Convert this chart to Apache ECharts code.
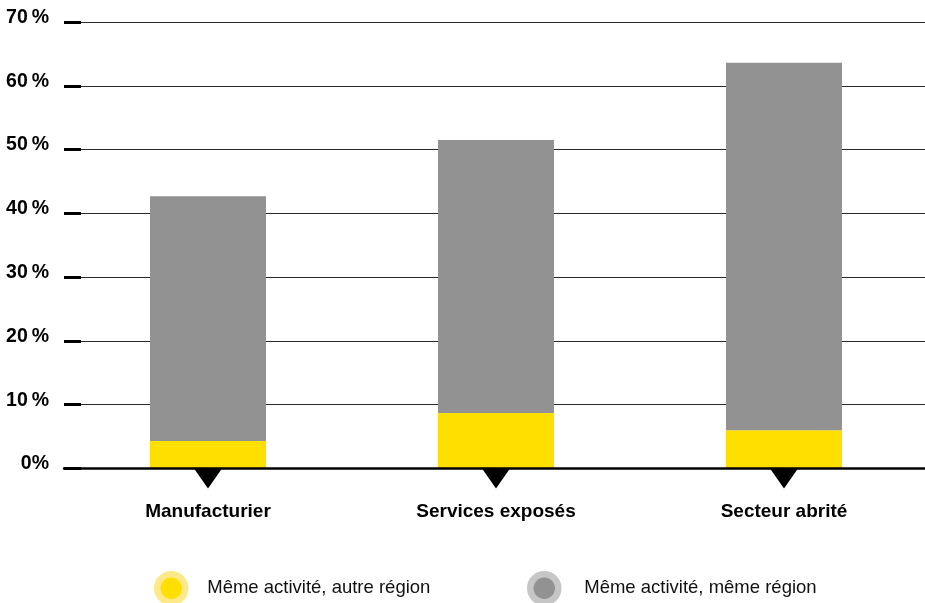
<!DOCTYPE html>
<html>
<head>
<meta charset="utf-8">
<script src="https://cdn.jsdelivr.net/npm/echarts@6/dist/echarts.min.js"></script>
<style>
  html, body { margin: 0; padding: 0; background: #fff; }
  #chart { width: 925px; height: 603px; }
</style>
</head>
<body>
<div id="chart"></div>
<script>
// Catégories et parts (%) de chaque composante
const categories = ['Manufacturier', 'Services exposés', 'Secteur abrité'];
const autreRegion = [4.3, 8.7, 6.0];      // même activité, autre région
const memeRegion = [38.4, 42.8, 57.6];    // même activité, même région
const yTickLabels = ['0%', '10\u2009%', '20\u2009%', '30\u2009%', '40\u2009%', '50\u2009%', '60\u2009%', '70\u2009%'];
const seriesNames = ['Même activité, autre région', 'Même activité, même région'];

const sans = '"Liberation Sans", Arial, Helvetica, sans-serif';
const YELLOW = '#ffdf00';
const GREY = '#929292';

const chart = echarts.init(document.getElementById('chart'));

const legendBase = {
  orient: 'horizontal',
  padding: 0,
  itemWidth: 28,
  itemHeight: 28,
  icon: 'circle',
  selectedMode: false,
  textStyle: {
    fontFamily: sans,
    fontSize: 18.5,
    color: '#111'
  }
};

chart.setOption({
  animation: false,
  backgroundColor: '#ffffff',
  grid: { left: 64, top: 22, width: 864, bottom: 134.5, outerBoundsMode: 'none', containLabel: false },
  legend: [
    Object.assign({}, legendBase, {
      left: 154, top: 571,
      textStyle: Object.assign({}, legendBase.textStyle, { padding: [0, 0, 0, 17] }),
      data: [{ name: seriesNames[0], itemStyle: { color: YELLOW, borderColor: '#fde98a', borderWidth: 6.5 } }]
    }),
    Object.assign({}, legendBase, {
      left: 527, top: 571,
      textStyle: Object.assign({}, legendBase.textStyle, { padding: [0, 0, 0, 21] }),
      data: [{ name: seriesNames[1], itemStyle: { color: GREY, borderColor: '#c6c6c6', borderWidth: 6.5 } }]
    })
  ],
  xAxis: {
    type: 'category',
    data: categories,
    boundaryGap: true,
    axisLine: { show: true, lineStyle: { color: '#000', width: 2.5 } },
    axisTick: { show: false },
    axisLabel: {
      margin: 34,
      fontFamily: sans,
      fontWeight: 'bold',
      fontSize: 19,
      color: '#000'
    },
    z: 5
  },
  yAxis: {
    type: 'value',
    min: 0,
    max: 70,
    interval: 10,
    axisLine: { show: false },
    axisTick: { show: true, inside: true, length: 17, lineStyle: { color: '#000', width: 3 } },
    splitLine: { show: true, lineStyle: { color: '#2a2a2a', width: 1 } },
    axisLabel: {
      margin: 15,
      fontFamily: sans,
      fontWeight: 'bold',
      fontSize: 19.5,
      color: '#000',
      verticalAlign: 'bottom',
      lineHeight: 9,
      formatter: function (v) { return yTickLabels[Math.round(v / 10)]; }
    }
  },
  series: [
    {
      name: seriesNames[0],
      type: 'bar',
      stack: 'total',
      barWidth: 116,
      itemStyle: { color: YELLOW },
      data: autreRegion,
      z: 2
    },
    {
      name: seriesNames[1],
      type: 'bar',
      stack: 'total',
      barWidth: 116,
      itemStyle: { color: GREY },
      data: memeRegion,
      z: 2
    },
    {
      // pointers under each category on the baseline
      name: 'pointer',
      type: 'scatter',
      data: categories.map(function () { return 0; }),
      symbol: 'path://M0,0L28,0L14,20Z',
      symbolSize: [28, 20],
      symbolOffset: [0, 10],
      itemStyle: { color: '#000', opacity: 1 },
      clip: false,
      silent: true,
      z: 6
    }
  ]
});
</script>
</body>
</html>
